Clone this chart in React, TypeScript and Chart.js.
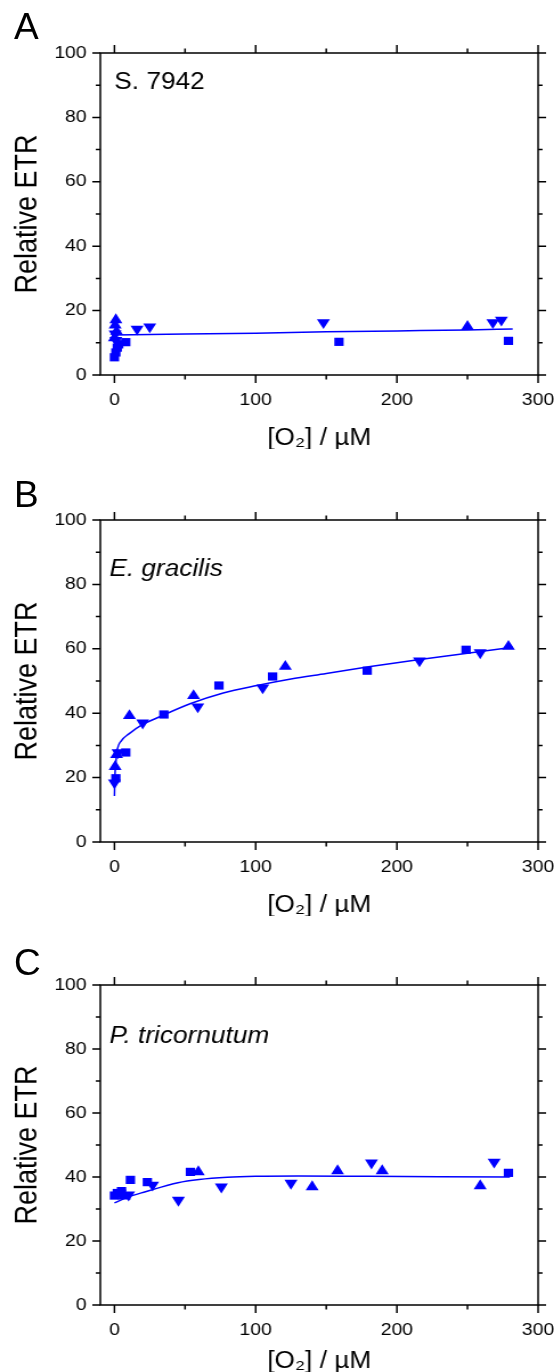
import React, { useEffect, useRef } from 'react';
import { Chart, registerables } from 'chart.js';

Chart.register(...registerables);

// ---- axis data ----
const X_MIN = -10;
const X_MAX = 300;
const Y_MIN = 0;
const Y_MAX = 100;
const X_TICKS = [0, 50, 100, 150, 200, 250, 300];
const X_LABELED = [0, 100, 200, 300];
const Y_TICKS = [0, 10, 20, 30, 40, 50, 60, 70, 80, 90, 100];
const Y_LABELED = [0, 20, 40, 60, 80, 100];
const X_TITLE = '[O\u2082] / \u00b5M';
const Y_TITLE = 'Relative ETR';

const PANEL_LETTERS = ['A', 'B', 'C'];
const PANEL_NAMES = ['S. 7942', 'E. gracilis', 'P. tricornutum'];
const PANEL_ITALIC = [false, true, true];

// ---- Panel A: S. 7942 ----
const aSquares: [number, number][] = [[0, 5.5], [1, 7.0], [2, 8.5], [3, 9.5], [8, 10.2], [159, 10.3], [279, 10.6]];
const aUp: [number, number][] = [[0, 11.5], [1.5, 13.5], [0.5, 15.5], [1, 17.1], [250, 15.0]];
const aDown: [number, number][] = [[1, 10.8], [0.5, 12.8], [16, 14.3], [25, 15.0], [148, 16.3], [268, 16.3], [274, 17.1]];
const aFitX = [0, 50, 100, 150, 200, 250, 282];
const aFitY = [12.4, 12.7, 13.0, 13.4, 13.7, 14.0, 14.3];

// ---- Panel B: E. gracilis ----
const bSquares: [number, number][] = [[1, 19.8], [8, 27.8], [35, 39.6], [74, 48.6], [112, 51.4], [179, 53.2], [249, 59.7]];
const bUp: [number, number][] = [[0.5, 23.4], [1.5, 27.1], [10.6, 39.2], [56, 45.4], [121, 54.5], [279, 60.7]];
const bDown: [number, number][] = [[0, 18.4], [2.5, 27.8], [20, 37.0], [59, 42.0], [105, 47.9], [216, 56.3], [259, 58.8]];
const bFitX = [0, 0.3, 1, 2, 5, 10, 20, 30, 54, 77, 101, 125, 150, 180, 215, 250, 282];
const bFitY = [14.3, 20, 24.5, 28.5, 31.5, 33.5, 36.5, 38.5, 43.0, 46.3, 48.6, 50.6, 52.3, 54.4, 56.6, 58.6, 60.5];

// ---- Panel C: P. tricornutum ----
const cSquares: [number, number][] = [[0, 34.2], [2, 35.0], [5, 35.6], [11.3, 39.1], [23.3, 38.4], [53.8, 41.6], [279, 41.3]];
const cUp: [number, number][] = [[7, 34.0], [59.4, 41.6], [140, 36.9], [158, 41.9], [189.6, 41.9], [259, 37.2]];
const cDown: [number, number][] = [[4, 35.0], [10, 34.4], [27, 37.5], [45.3, 32.8], [75.7, 36.9], [125, 38.1], [182, 44.4], [268.9, 44.7]];
const cFitX = [0, 10, 22, 45, 60, 80, 100, 130, 180, 230, 280];
const cFitY = [31.9, 33.8, 35.4, 38.2, 39.2, 39.9, 40.2, 40.3, 40.2, 40.1, 40.0];

const PANEL_DATA = [
  { sq: aSquares, up: aUp, down: aDown, fx: aFitX, fy: aFitY },
  { sq: bSquares, up: bUp, down: bDown, fx: bFitX, fy: bFitY },
  { sq: cSquares, up: cUp, down: cDown, fx: cFitX, fy: cFitY },
];

// ---- layout (page px) ----
const STRETCH = 1.14;
const PAGE_W = 554;
const CANVAS_W = Math.round(PAGE_W / STRETCH);
const Y_AXIS_W = 88;
const PAD_RIGHT = 14;
const PANEL_LAYOUT = [
  { top: 0, padTop: 53, plotH: 322, xAxisH: 74, letterTop: 8, labelDx: 14, labelDy: 30 },
  { top: 467, padTop: 53, plotH: 322, xAxisH: 74, letterTop: 476, labelDx: 9, labelDy: 50 },
  { top: 932, padTop: 53, plotH: 320, xAxisH: 67, letterTop: 944, labelDx: 9, labelDy: 52 },
];

const FONT = '"Liberation Sans", Arial, Helvetica, sans-serif';
const BLUE = '#0000ff';

const toPts = (arr: [number, number][]) => arr.map(([x, y]) => ({ x, y }));

function Panel({ idx }: { idx: number }) {
  const ref = useRef<HTMLCanvasElement | null>(null);
  const lay = PANEL_LAYOUT[idx];
  const H = lay.padTop + lay.plotH + lay.xAxisH;

  useEffect(() => {
    if (!ref.current) return;
    const d = PANEL_DATA[idx];
    const framePlugin = {
      id: 'frame' + idx,
      afterDraw(chart: any) {
        const { ctx, chartArea: a, scales } = chart;
        const x = scales.x;
        const y = scales.y;
        ctx.save();
        ctx.strokeStyle = '#000';
        ctx.lineWidth = 1.5;
        ctx.strokeRect(a.left, a.top, a.right - a.left, a.bottom - a.top);
        ctx.beginPath();
        X_TICKS.forEach((v) => {
          const px = x.getPixelForValue(v);
          const len = X_LABELED.includes(v) ? 8 : 4.5;
          ctx.moveTo(px, a.bottom);
          ctx.lineTo(px, a.bottom + len);
          ctx.moveTo(px, a.top);
          ctx.lineTo(px, a.top - len);
        });
        Y_TICKS.forEach((v) => {
          const py = y.getPixelForValue(v);
          const len = (Y_LABELED.includes(v) ? 8 : 4.5) / STRETCH;
          ctx.moveTo(a.left, py);
          ctx.lineTo(a.left - len, py);
          ctx.moveTo(a.right, py);
          ctx.lineTo(a.right + len, py);
        });
        ctx.stroke();
        ctx.fillStyle = '#000';
        ctx.font = `${PANEL_ITALIC[idx] ? 'italic ' : ''}23px ${FONT}`;
        ctx.textBaseline = 'middle';
        ctx.textAlign = 'left';
        ctx.fillText(PANEL_NAMES[idx], a.left + lay.labelDx / STRETCH, a.top + lay.labelDy);
        ctx.restore();
      },
    };

    const chart = new Chart(ref.current, {
      type: 'scatter',
      data: {
        datasets: [
          {
            data: toPts(d.sq),
            pointStyle: 'rect',
            pointRadius: 5.8,
            backgroundColor: BLUE,
            borderColor: BLUE,
            borderWidth: 0,
          },
          {
            data: toPts(d.up),
            pointStyle: 'triangle',
            pointRadius: 6.6,
            backgroundColor: BLUE,
            borderColor: BLUE,
            borderWidth: 0,
          },
          {
            data: toPts(d.down),
            pointStyle: 'triangle',
            pointRotation: 180,
            pointRadius: 6.6,
            backgroundColor: BLUE,
            borderColor: BLUE,
            borderWidth: 0,
          },
          {
            data: d.fx.map((x, i) => ({ x, y: d.fy[i] })),
            showLine: true,
            pointRadius: 0,
            borderColor: BLUE,
            borderWidth: 1.5,
            cubicInterpolationMode: 'monotone',
          } as any,
        ],
      },
      options: {
        animation: false,
        responsive: false,
        devicePixelRatio: 1,
        layout: { padding: { top: lay.padTop, right: PAD_RIGHT, left: 0, bottom: 0 } },
        plugins: { legend: { display: false }, tooltip: { enabled: false } },
        scales: {
          x: {
            type: 'linear',
            min: X_MIN,
            max: X_MAX,
            afterBuildTicks: (s: any) => {
              s.ticks = X_LABELED.map((v) => ({ value: v }));
            },
            afterFit: (s: any) => {
              s.height = lay.xAxisH;
              s.paddingLeft = 0;
              s.paddingRight = 0;
              s.paddingTop = 0;
              s.paddingBottom = 0;
            },
            grid: { display: false, drawTicks: false },
            border: { display: false },
            ticks: { padding: 15, color: '#000', font: { family: FONT, size: 17 }, maxRotation: 0 },
            title: { display: true, text: X_TITLE, color: '#000', padding: { top: 0, bottom: -3 }, font: { family: FONT, size: 23 } },
          },
          y: {
            type: 'linear',
            min: Y_MIN,
            max: Y_MAX,
            afterBuildTicks: (s: any) => {
              s.ticks = Y_LABELED.map((v) => ({ value: v }));
            },
            afterFit: (s: any) => {
              s.width = Y_AXIS_W;
              s.paddingLeft = 0;
              s.paddingRight = 0;
              s.paddingTop = 0;
              s.paddingBottom = 0;
            },
            grid: { display: false, drawTicks: false },
            border: { display: false },
            ticks: { padding: 12, color: '#000', font: { family: FONT, size: 17 } },
            title: { display: true, text: Y_TITLE, color: '#000', padding: { top: 8, bottom: 0 }, font: { family: FONT, size: 27 } },
          },
        },
      },
      plugins: [framePlugin],
    } as any);
    return () => chart.destroy();
  }, [idx]);

  return (
    <div
      style={{
        position: 'absolute',
        left: 0,
        top: lay.top,
        width: CANVAS_W,
        height: H,
        transform: `scaleX(${STRETCH})`,
        transformOrigin: '0 0',
      }}
    >
      <canvas ref={ref} width={CANVAS_W} height={H} style={{ width: CANVAS_W, height: H, display: 'block' }} />
    </div>
  );
}

export default function App() {
  return (
    <div
      style={{
        position: 'absolute',
        left: 0,
        top: 0,
        width: PAGE_W,
        height: 1372,
        overflow: 'hidden',
        background: '#fff',
      }}
    >
      {PANEL_LAYOUT.map((lay, i) => (
        <React.Fragment key={i}>
          <Panel idx={i} />
          <div
            style={{
              position: 'absolute',
              left: 14,
              top: lay.letterTop,
              fontFamily: FONT,
              fontSize: 37,
              lineHeight: '37px',
              color: '#000',
            }}
          >
            {PANEL_LETTERS[i]}
          </div>
        </React.Fragment>
      ))}
    </div>
  );
}
